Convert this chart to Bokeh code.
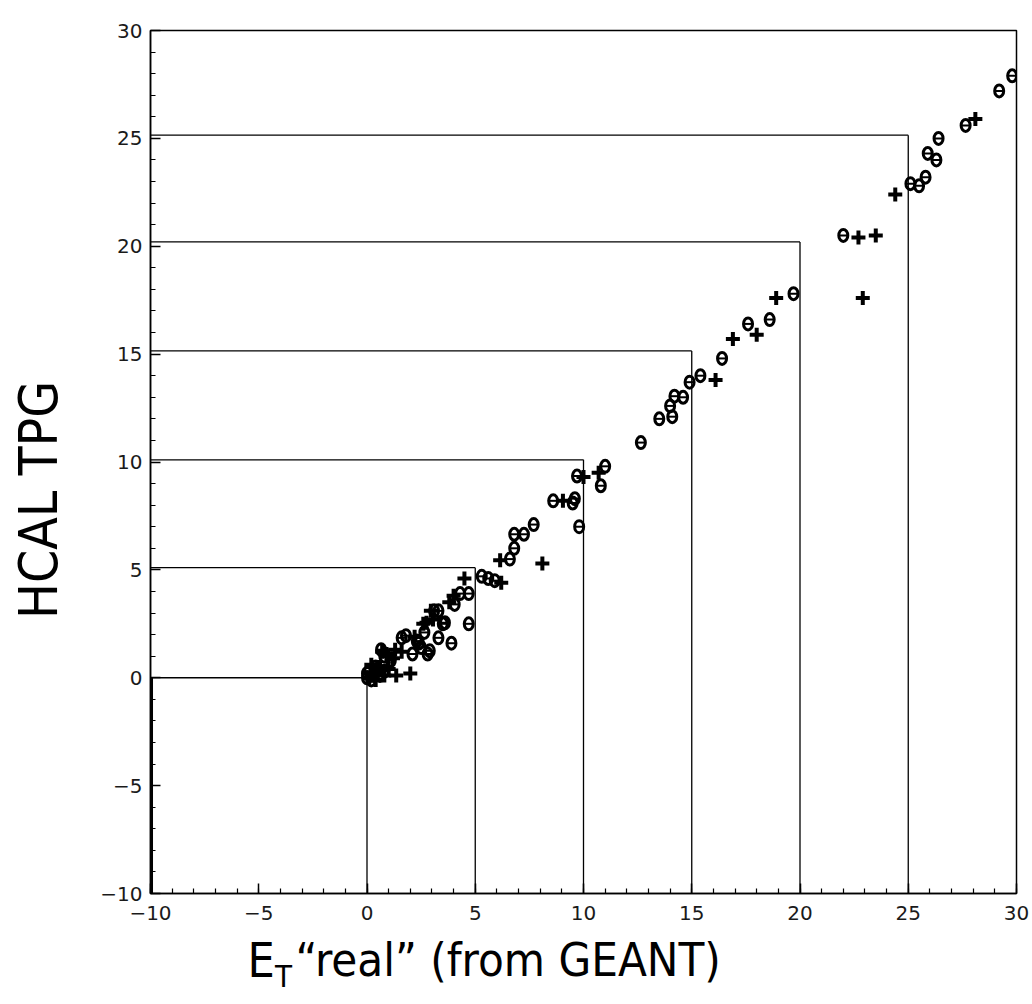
from bokeh.plotting import figure
from bokeh.models import Range1d, FixedTicker
from bokeh.layouts import column
from bokeh.core.properties import value
from bokeh.embed import file_html
from bokeh.resources import INLINE

# ---- data ----
box_levels = [0, 5, 10, 15, 20, 25]
box_tops = [0.0, 5.1, 10.1, 15.15, 20.2, 25.15]

circ_x = [29.8, 29.2, 27.65, 26.4, 25.9, 26.3, 25.8, 25.5, 25.1, 22.0,
          19.7, 18.6, 17.6, 16.4, 15.4, 14.9, 14.6, 14.2, 14.0, 14.1, 13.5, 12.65,
          11.0, 10.8, 9.7, 9.6, 9.5, 8.6, 9.8,
          7.7, 7.25, 6.8, 6.8, 6.6, 5.3, 5.6, 5.9,
          4.7, 4.3, 4.05, 4.7, 3.5, 3.1, 3.3, 3.6,
          1.8, 2.4, 2.8, 2.1, 3.3, 3.9, 2.65, 2.9, 2.3, 2.5, 1.6, 0.65, 1.1, 0.8,
          0.0, 0.1, 0.3, 0.5, 0.2, 0.6, 0.4, 0.8, 0.0]
circ_y = [27.9, 27.2, 25.6, 25.0, 24.3, 24.0, 23.2, 22.8, 22.9, 20.5,
          17.8, 16.6, 16.4, 14.8, 14.0, 13.7, 13.0, 13.05, 12.6, 12.1, 12.0, 10.9,
          9.8, 8.9, 9.35, 8.3, 8.1, 8.2, 7.0,
          7.1, 6.65, 6.65, 6.0, 5.5, 4.7, 4.6, 4.5,
          3.9, 3.9, 3.4, 2.5, 2.5, 3.1, 3.1, 2.55,
          1.95, 1.6, 1.1, 1.1, 1.85, 1.6, 2.1, 1.25, 1.7, 1.4, 1.85, 1.3, 0.8, 1.0,
          0.0, 0.3, 0.1, 0.4, -0.1, 0.1, 0.5, 0.3, 0.2]

cross_x = [28.1, 24.4, 22.7, 23.5, 22.9,
           18.9, 18.0, 16.9, 16.1,
           10.7, 10.0, 9.05,
           6.15, 8.1, 6.2, 4.5,
           4.0, 2.95, 2.75, 3.05, 2.6,
           2.0, 1.35, 0.9, 1.2, 0.3, 0.6, 1.0, 0.2, 1.6, 2.2, 3.8,
           0.7, 1.0, 1.3, 0.1, 0.4, 0.8, 0.5]
cross_y = [25.9, 22.4, 20.4, 20.5, 17.6,
           17.6, 15.9, 15.7, 13.8,
           9.5, 9.3, 8.2,
           5.45, 5.3, 4.4, 4.6,
           3.8, 3.1, 2.55, 2.7, 2.5,
           0.2, 0.1, 1.1, 0.9, 0.2, 0.5, 0.4, 0.6, 1.2, 1.9, 3.5,
           1.2, 1.0, 1.3, 0.0, -0.1, 0.1, 0.2]

tick_values = [-10, -5, 0, 5, 10, 15, 20, 25, 30]

x_title_parts = ["E", "T", "\u201creal\u201d (from GEANT)"]
y_title = "HCAL TPG"

NARROW = "DejaVu Sans Condensed, Liberation Sans, sans-serif"

# ---- main figure ----
p = figure(frame_width=866, frame_height=863, output_backend="svg", toolbar_location=None,
           x_range=Range1d(-10, 30), y_range=Range1d(-10, 30),
           min_border_left=150, min_border_right=16, min_border_top=30, min_border_bottom=30)
p.background_fill_color = "white"
p.border_fill_color = "white"
p.grid.visible = False
p.outline_line_color = "black"
p.outline_line_width = 1.5

for ax in (p.xaxis[0], p.yaxis[0]):
    ax.ticker = FixedTicker(ticks=tick_values, minor_ticks=list(range(-10, 31)))
    ax.major_tick_in = 10
    ax.major_tick_out = 0
    ax.minor_tick_in = 5
    ax.minor_tick_out = 0
    ax.axis_line_color = "black"
    ax.axis_line_width = 1.5
    ax.major_tick_line_width = 1.5
    ax.minor_tick_line_width = 1.2
    ax.major_label_text_font = "DejaVu Sans"
    ax.major_label_text_font_size = "20px"
    ax.major_label_text_color = "#1a1a1a"
    ax.major_label_overrides = {v: str(v).replace("-", "\u2212") for v in tick_values}

p.xaxis.major_label_standoff = 12
p.yaxis.major_label_standoff = 8

# trailing no-break spaces push the rotated title down, as in the original
p.yaxis.axis_label = y_title + "\u00a0" * 5
p.yaxis.axis_label_text_font = NARROW
p.yaxis.axis_label_text_font_size = "53px"
p.yaxis.axis_label_text_font_style = "normal"
p.yaxis.axis_label_text_color = "black"
p.yaxis.axis_label_standoff = 28

# boxes
p.segment(x0=[-10] * len(box_tops), y0=box_tops, x1=box_levels, y1=box_tops,
          line_color="black", line_width=1.3)
p.segment(x0=box_levels, y0=[-10] * len(box_levels), x1=box_levels, y1=box_tops,
          line_color="black", line_width=1.3)
p.segment(x0=[-9.93], y0=[-10], x1=[-9.93], y1=[0], line_color="black", line_width=2)

# markers: open ellipses with a small bar, and crosses
p.ellipse(x=circ_x, y=circ_y, width=9, height=12, width_units="screen", height_units="screen",
          fill_color=None, line_color="black", line_width=3)
p.scatter(x=circ_x, y=circ_y, marker="dash", size=8, line_color="black", line_width=2)
p.scatter(x=cross_x, y=cross_y, marker="cross", size=14, line_color="black", line_width=4)

# ---- x title strip (subscript T), same horizontal frame as the main plot ----
t = figure(frame_width=866, frame_height=64, output_backend="svg", toolbar_location=None,
           title=None, x_range=Range1d(-10, 30), y_range=Range1d(0, 64),
           min_border_left=150, min_border_right=16, min_border_top=0, min_border_bottom=0)
t.axis.visible = False
t.grid.visible = False
t.outline_line_color = None
t.background_fill_color = "white"
t.border_fill_color = "white"
t.text(x=[-5.52, -4.25, -3.3], y=[28, 12, 28], text=x_title_parts,
       text_font=value(NARROW), text_font_size=["48px", "31px", "47px"],
       text_baseline="alphabetic", text_align="left", text_color="black")

layout = column(p, t, spacing=0)
open("out.html", "w").write(file_html(layout, INLINE))
